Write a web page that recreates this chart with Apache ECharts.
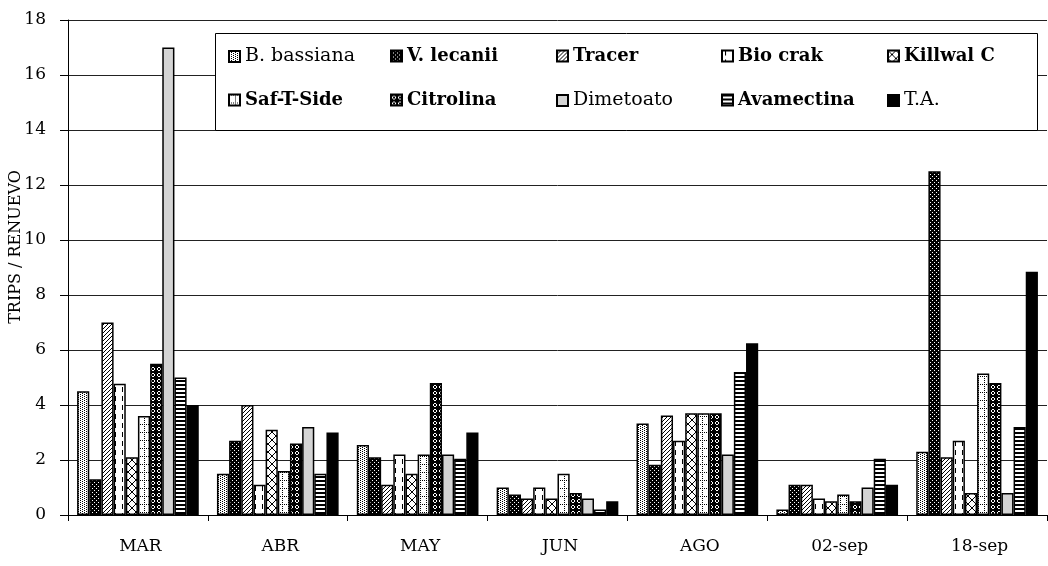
<!DOCTYPE html>
<html>
<head>
<meta charset="utf-8">
<script src="https://cdn.jsdelivr.net/npm/echarts@6/dist/echarts.min.js"></script>
<style>
html,body{margin:0;padding:0;background:#fff;}
#chart{width:1048px;height:566px;}
</style>
</head>
<body>
<div id="chart"></div>
<script>
var categories = ['MAR', 'ABR', 'MAY', 'JUN', 'AGO', '02-sep', '18-sep'];
var yTicks = [0, 2, 4, 6, 8, 10, 12, 14, 16, 18];
var seriesNames = ['B. bassiana', 'V. lecanii', 'Tracer', 'Bio crak', 'Killwal C',
                   'Saf-T-Side', 'Citrolina', 'Dimetoato', 'Avamectina', 'T.A.'];
var bBassiana  = [4.5, 1.5, 2.55, 1.0, 3.33, 0.2, 2.3];
var vLecanii   = [1.3, 2.7, 2.1, 0.75, 1.83, 1.1, 12.5];
var tracer     = [7.0, 4.0, 1.1, 0.6, 3.62, 1.1, 2.1];
var bioCrak    = [4.77, 1.1, 2.2, 1.0, 2.7, 0.6, 2.7];
var killwalC   = [2.1, 3.1, 1.5, 0.6, 3.7, 0.5, 0.8];
var safTSide   = [3.6, 1.6, 2.2, 1.5, 3.7, 0.75, 5.15];
var citrolina  = [5.5, 2.6, 4.8, 0.8, 3.7, 0.5, 4.8];
var dimetoato  = [17.0, 3.2, 2.2, 0.6, 2.2, 1.0, 0.8];
var avamectina = [5.0, 1.5, 2.05, 0.2, 5.2, 2.05, 3.2];
var ta         = [4.0, 3.0, 3.0, 0.5, 6.25, 1.1, 8.85];
var seriesValues = [bBassiana, vLecanii, tracer, bioCrak, killwalC,
                    safTSide, citrolina, dimetoato, avamectina, ta];
var boldNames = ['V. lecanii', 'Tracer', 'Bio crak', 'Killwal C', 'Saf-T-Side', 'Citrolina', 'Avamectina'];

var FONT = '"DejaVu Serif", "Liberation Serif", serif';

function pat(w, h, bg, fg, pts) {
  var c = document.createElement('canvas');
  c.width = w; c.height = h;
  var ctx = c.getContext('2d');
  ctx.fillStyle = bg; ctx.fillRect(0, 0, w, h);
  ctx.fillStyle = fg;
  pts.forEach(function (p) { ctx.fillRect(p[0], p[1], p[2] || 1, p[3] || 1); });
  return { image: c, repeat: 'repeat' };
}
var fills = [
  pat(4, 4, '#fff', '#000', [[0,0],[2,1],[0,2],[2,3]]),
  pat(4, 4, '#000', '#fff', [[0,0],[2,2]]),
  pat(4, 4, '#fff', '#000', [[3,0],[2,1],[1,2],[0,3]]),
  pat(7, 9, '#fff', '#000', [[3,0,1,5]]),
  pat(8, 8, '#fff', '#000', [[0,0],[1,1],[2,2],[3,3],[4,4],[5,5],[6,6],[7,7],[7,0],[6,1],[5,2],[4,3],[3,4],[2,5],[1,6],[0,7]]),
  pat(6, 8, '#fff', '#000', [[0,0],[0,2],[0,4],[0,6],[2,0],[4,0]]),
  pat(6, 6, '#000', '#fff', [[2,1,2,1],[1,2,1,2],[4,2,1,2],[2,4,2,1]]),
  '#d4d4d4',
  pat(4, 4, '#fff', '#000', [[0,0,4,2]]),
  '#000'
];

var legendCols = [228, 390, 556, 721, 887];
var legendRows = [47, 91];
var legends = seriesNames.map(function (n, i) {
  var bold = boldNames.indexOf(n) >= 0;
  return {
    data: [n],
    left: legendCols[i % 5],
    top: legendRows[Math.floor(i / 5)],
    padding: 0,
    icon: 'rect',
    itemWidth: 11,
    itemHeight: 11,
    itemGap: 0,
    selectedMode: false,
    z: 20,
    textStyle: {
      fontFamily: FONT,
      fontSize: bold ? 18 : 19,
      color: '#000',
      fontWeight: bold ? 'bold' : 'normal'
    }
  };
});

var series = seriesNames.map(function (n, i) {
  return {
    name: n,
    type: 'bar',
    data: seriesValues[i],
    barGap: 0,
    barCategoryGap: '13%',
    itemStyle: { color: fills[i], borderColor: '#000', borderWidth: 1.5 },
    emphasis: { disabled: true }
  };
});

var chart = echarts.init(document.getElementById('chart'), null, { renderer: 'canvas' });
chart.setOption({
  animation: false,
  backgroundColor: '#fff',
  grid: { left: 68, right: 1, top: 20, bottom: 51 },
  legend: legends,
  graphic: [
    {
      type: 'rect', z: 10,
      shape: { x: 215.5, y: 33.5, width: 822, height: 97 },
      style: { fill: '#fff', stroke: '#000', lineWidth: 1 }
    },
    {
      type: 'text', z: 10,
      x: 16, y: 247, rotation: Math.PI / 2,
      style: {
        text: 'TRIPS / RENUEVO',
        font: '16px "DejaVu Serif"',
        fill: '#000',
        align: 'center',
        verticalAlign: 'middle'
      }
    }
  ],
  xAxis: {
    type: 'category',
    data: categories,
    axisLine: { lineStyle: { color: '#000', width: 1 } },
    axisTick: { show: true, length: 6, lineStyle: { color: '#000' } },
    axisLabel: { color: '#000', fontFamily: FONT, fontSize: 17, margin: 23, padding: [0, 0, 0, 5] }
  },
  yAxis: {
    type: 'value',
    min: yTicks[0],
    max: yTicks[yTicks.length - 1],
    interval: yTicks[1] - yTicks[0],
    axisLine: { show: true, lineStyle: { color: '#000', width: 1 } },
    axisTick: { show: true, length: 8, lineStyle: { color: '#000' } },
    axisLabel: { color: '#000', fontFamily: FONT, fontSize: 17, margin: 22 },
    splitLine: { show: true, lineStyle: { color: '#222', width: 1 } }
  },
  series: series
});
</script>
</body>
</html>
